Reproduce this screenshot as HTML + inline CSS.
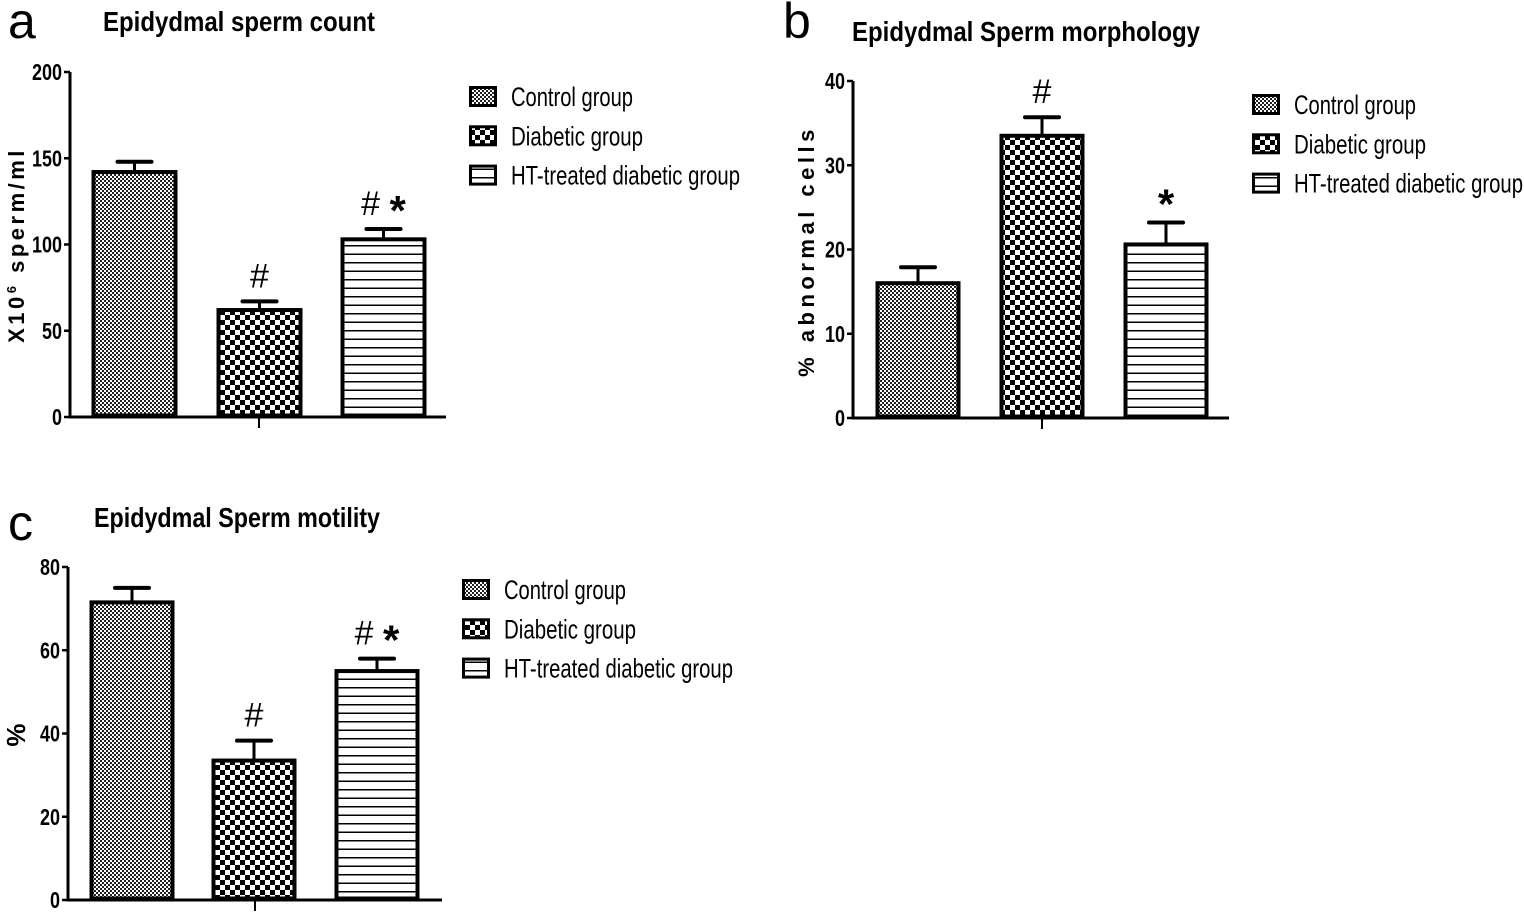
<!DOCTYPE html>
<html><head><meta charset="utf-8">
<style>
html,body{margin:0;padding:0;background:#fff;}
svg{display:block;font-family:"Liberation Sans Narrow","Liberation Sans",sans-serif;}
</style></head>
<body>
<svg id="fig" width="1524" height="914" viewBox="0 0 1524 914" xmlns="http://www.w3.org/2000/svg">
<defs>
<pattern id="pCtrl" width="4" height="4" patternUnits="userSpaceOnUse">
<rect width="4" height="4" fill="#fff"/><rect width="2" height="2" fill="#222"/><rect x="2" y="2" width="2" height="2" fill="#222"/>
</pattern>
<pattern id="pDiab" width="10" height="10" patternUnits="userSpaceOnUse">
<rect width="10" height="10" fill="#fff"/><rect width="5" height="5" fill="#000"/><rect x="5" y="5" width="5" height="5" fill="#000"/>
</pattern>
<pattern id="pHT" width="8" height="8.5" patternUnits="userSpaceOnUse">
<rect width="8" height="8.5" fill="#fff"/><rect y="7" width="8" height="1.5" fill="#000"/>
</pattern>
</defs>
</svg>
<script>
const groups = ["Control group","Diabetic group","HT-treated diabetic group"];
const countMeans = [142, 62, 103];
const countErr = [6, 5, 6];
const countMarks = ["", "#", "# *"];
const countTicks = [0, 50, 100, 150, 200];
const morphMeans = [16, 33.5, 20.6];
const morphErr = [1.9, 2.2, 2.6];
const morphMarks = ["", "#", "*"];
const morphTicks = [0, 10, 20, 30, 40];
const motMeans = [71.5, 33.5, 55];
const motErr = [3.5, 4.8, 3];
const motMarks = ["", "#", "# *"];
const motTicks = [0, 20, 40, 60, 80];

const NS="http://www.w3.org/2000/svg";
const svg=document.getElementById('fig');
const fills=["url(#pCtrl)","url(#pDiab)","url(#pHT)"];
function mk(tag,attrs,parent){const e=document.createElementNS(NS,tag);for(const k in attrs)e.setAttribute(k,attrs[k]);(parent||svg).appendChild(e);return e;}

function panel(cfg){
  const g=mk('g',{});
  
  
  const ymax=cfg.ticks[cfg.ticks.length-1];
  const y=v=>cfg.y0-(v/ymax)*(cfg.y0-cfg.yTop);
  const L=mk('text',{x:cfg.lx,y:cfg.ly,'font-family':'Liberation Sans,sans-serif','font-size':50},g);L.textContent=cfg.letter;
  
  
  const T=mk('text',{x:cfg.tx,y:cfg.ty,'font-size':28,'font-weight':'bold',textLength:cfg.tw,lengthAdjust:'spacingAndGlyphs'},g);T.textContent=cfg.title;
  
  
  const Y=mk('text',{transform:`translate(${cfg.yx},${cfg.yy}) rotate(-90)`,'text-anchor':'middle','font-family':'Liberation Sans,sans-serif','font-size':cfg.yfs||21,'font-weight':'bold','letter-spacing':cfg.yls||0},g);
  Y.innerHTML=cfg.ytitle;
  
  
  const ax=mk('line',{x1:cfg.ax,y1:cfg.yTop,x2:cfg.ax,y2:cfg.y0+1.5,stroke:'#000','stroke-width':3},g);
  
  
  const xa=mk('line',{x1:cfg.ax-1.5,y1:cfg.y0,x2:cfg.axEnd,y2:cfg.y0,stroke:'#000','stroke-width':3},g);
  
  
  const xt=mk('line',{x1:cfg.xtick,y1:cfg.y0,x2:cfg.xtick,y2:cfg.y0+11,stroke:'#000','stroke-width':2},g);
  
  
  cfg.ticks.forEach(t=>{
    const ty=y(t);
    const tl=mk('line',{x1:cfg.ax-6,y1:ty,x2:cfg.ax,y2:ty,stroke:'#000','stroke-width':2.5},g);
    
    
    const s=String(t);
    const tt=mk('text',{x:cfg.ax-8,y:ty+8,'text-anchor':'end','font-size':23,'font-weight':'bold',textLength:s.length*10,lengthAdjust:'spacingAndGlyphs'},g);
    tt.textContent=s;
    
    
  });
  cfg.means.forEach((m,i)=>{
    const x0=cfg.bx[i],w=cfg.bw,top=y(m),cx=x0+w/2,et=y(m+cfg.err[i]);
    const e1=mk('line',{x1:cx,y1:top,x2:cx,y2:et,stroke:'#000','stroke-width':3},g);
    
    
    const e2=mk('line',{x1:cx-17,y1:et,x2:cx+17,y2:et,stroke:'#000','stroke-width':4,'stroke-linecap':'round'},g);
    
    
    const b=mk('rect',{x:x0+1.5,y:top,width:w-3,height:cfg.y0-top-1.5,fill:fills[i],stroke:'#000','stroke-width':4},g);
    
    
    if(cfg.marks[i]){
      const s=cfg.marks[i];
      const tx=mk('text',{x:cx,y:et-14,'text-anchor':'middle','font-size':34},g);
      tx.innerHTML=s.split(' ').map(p=>p==='*'?'<tspan font-family="Liberation Sans,sans-serif" font-size="42" font-weight="bold" dy="10">*</tspan>':'<tspan>'+p+'</tspan>').join('<tspan> </tspan>');
      
      
    }
  });
  groups.forEach((gname,i)=>{
    const ly=cfg.legY+i*39.3;
    const lb=mk('rect',{x:cfg.legX+1.5,y:ly+1.5,width:25,height:18,fill:fills[i],stroke:'#000','stroke-width':3},g);
    
    
    const lt=mk('text',{x:cfg.legX+42,y:ly+20,'font-size':27,textLength:[122,132,229][i],lengthAdjust:'spacingAndGlyphs'},g);
    lt.textContent=gname;
    
    
  });
}

panel({name:'chart-sperm-count',letter:'a',lx:8,ly:38,title:'Epidydmal sperm count',tx:103,ty:31,tw:272,
 ytitle:'X10<tspan font-size="13" dy="-8">6</tspan><tspan dy="8"> sperm/ml</tspan>',yx:24,yy:245,yls:3.5,yfs:22,
 ax:70,axEnd:446,y0:417,yTop:72,ticks:countTicks,means:countMeans,err:countErr,marks:countMarks,
 bx:[92,217,341],bw:85,xtick:259,legX:469,legY:86});
panel({name:'chart-sperm-morphology',letter:'b',lx:783,ly:38,title:'Epidydmal Sperm morphology',tx:852,ty:41,tw:348,
 ytitle:'% abnormal cells',yx:814,yy:251,yls:4.5,yfs:22,
 ax:853,axEnd:1229,y0:418,yTop:81,ticks:morphTicks,means:morphMeans,err:morphErr,marks:morphMarks,
 bx:[876,1000,1124],bw:84,xtick:1042,legX:1252,legY:94});
panel({name:'chart-sperm-motility',letter:'c',lx:8,ly:540,title:'Epidydmal Sperm motility',tx:94,ty:527,tw:286,
 ytitle:'%',yx:25,yy:735,yfs:26,
 ax:68,axEnd:442,y0:900,yTop:567,ticks:motTicks,means:motMeans,err:motErr,marks:motMarks,
 bx:[90,212,335],bw:84,xtick:255,legX:462,legY:579});
</script>
</body></html>
